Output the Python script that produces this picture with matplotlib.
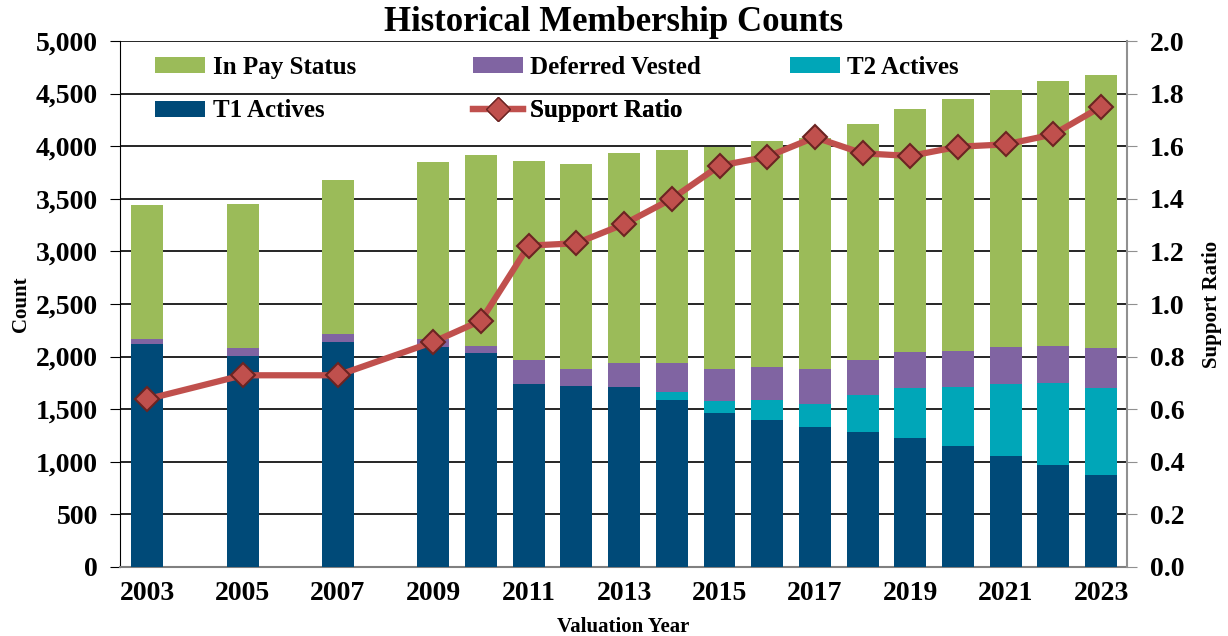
import matplotlib
matplotlib.use("Agg")
import matplotlib.pyplot as plt
from matplotlib.ticker import FuncFormatter, MultipleLocator
from matplotlib.patches import Patch
from matplotlib.lines import Line2D

years = [2003, 2005, 2007, 2009, 2010, 2011, 2012, 2013, 2014, 2015, 2016,
         2017, 2018, 2019, 2020, 2021, 2022, 2023]
t1_actives = [2117, 2006, 2139, 2091, 2031, 1736, 1724, 1714, 1591, 1467, 1394,
              1334, 1286, 1226, 1153, 1055, 970, 872]
t2_actives = [0, 0, 0, 0, 0, 0, 0, 0, 72, 111, 197,
              219, 353, 476, 558, 681, 779, 830]
deferred_vested = [47, 73, 73, 73, 73, 232, 158, 228, 279, 304, 313,
                   329, 329, 339, 342, 352, 352, 377]
in_pay_status = [1277, 1370, 1468, 1686, 1808, 1888, 1952, 1990, 2025, 2107, 2148,
                 2198, 2243, 2316, 2393, 2443, 2516, 2595]
support_ratio = [0.638, 0.729, 0.729, 0.856, 0.937, 1.222, 1.231, 1.304, 1.400, 1.526,
                 1.560, 1.634, 1.573, 1.563, 1.598, 1.607, 1.645, 1.750]
year_ticks = [2003, 2005, 2007, 2009, 2011, 2013, 2015, 2017, 2019, 2021, 2023]

c_t1 = "#004A78"
c_t2 = "#00A6B8"
c_dv = "#8064A2"
c_ip = "#9BBB59"
c_line = "#C0504D"
c_medge = "#6B2422"

font = ["Liberation Serif", "DejaVu Serif"]
plt.rcParams["font.family"] = font
plt.rcParams["font.weight"] = "bold"

fig = plt.figure(figsize=(12.28, 6.36), dpi=100)
ax = fig.add_axes([0.0977, 0.1085, 0.8203, 0.827])
ax2 = ax.twinx()

w = 0.67
ax.bar(years, t1_actives, width=w, color=c_t1, zorder=3)
b2 = [a for a in t1_actives]
ax.bar(years, t2_actives, width=w, bottom=b2, color=c_t2, zorder=3)
b3 = [a + b for a, b in zip(t1_actives, t2_actives)]
ax.bar(years, deferred_vested, width=w, bottom=b3, color=c_dv, zorder=3)
b4 = [a + b for a, b in zip(b3, deferred_vested)]
ax.bar(years, in_pay_status, width=w, bottom=b4, color=c_ip, zorder=3)

ax2.plot(years, support_ratio, color=c_line, lw=4.5, marker="D", markersize=12,
         markerfacecolor=c_line, markeredgecolor=c_medge, markeredgewidth=1.5,
         zorder=5)

ax.set_xlim(2002.43, 2023.55)
ax.set_ylim(0, 5000)
ax2.set_ylim(0, 2.0)
ax.yaxis.set_major_locator(MultipleLocator(500))
ax2.yaxis.set_major_locator(MultipleLocator(0.2))
ax.yaxis.set_major_formatter(FuncFormatter(lambda v, p: f"{int(v):,}"))
ax2.yaxis.set_major_formatter(FuncFormatter(lambda v, p: f"{v:.1f}"))
ax.set_xticks(year_ticks)
ax.set_xticklabels([str(y) for y in year_ticks])

ax.grid(axis="y", color="black", lw=1.2, zorder=0)
ax.set_axisbelow(True)

for a in (ax, ax2):
    a.spines["top"].set_visible(False)
ax.spines["right"].set_visible(False)
ax.spines["left"].set_color("black")
ax.spines["bottom"].set_color("#808080")
ax.spines["bottom"].set_linewidth(1.5)
ax2.spines["left"].set_visible(False)
ax2.spines["bottom"].set_visible(False)
ax2.spines["right"].set_color("#909090")
ax2.spines["right"].set_linewidth(1.5)

ax.tick_params(axis="y", labelsize=20, length=7, direction="out", pad=9)
ax.tick_params(axis="x", labelsize=20, length=0, pad=10)
ax2.tick_params(axis="y", labelsize=20, length=7, direction="out", color="#909090", pad=9)
for lab in ax.get_xticklabels() + ax.get_yticklabels() + ax2.get_yticklabels():
    lab.set_fontweight("bold")

ax.set_ylabel("Count", fontsize=15, fontweight="bold")
ax.yaxis.set_label_coords(-0.088, 0.5)
ax2.set_ylabel("Support Ratio", fontsize=15, fontweight="bold")
ax2.yaxis.set_label_coords(1.074, 0.5)
ax.set_xlabel("Valuation Year", fontsize=15, fontweight="bold", labelpad=8)
fig.suptitle("Historical Membership Counts", fontsize=25, fontweight="bold", y=0.99)

legend_items = [
    (Patch(facecolor=c_ip), "In Pay Status", 0.035, 0.9506),
    (Patch(facecolor=c_dv), "Deferred Vested", 0.350, 0.9506),
    (Patch(facecolor=c_t2), "T2 Actives", 0.665, 0.9506),
    (Patch(facecolor=c_t1), "T1 Actives", 0.035, 0.867),
    (Line2D([0], [0], color=c_line, lw=4.5, marker="D", markersize=12,
            markerfacecolor=c_line, markeredgecolor=c_medge), "Support Ratio", 0.350, 0.867),
]
for h, lbl, lx, ly in legend_items:
    leg = ax.legend([h], [lbl], loc="center left", bbox_to_anchor=(lx, ly),
                    frameon=False, borderpad=0, borderaxespad=0,
                    prop={"family": font, "weight": "bold", "size": 18},
                    handlelength=2.0, handleheight=0.6, handletextpad=0.3)
    leg.set_zorder(10)
    ax.add_artist(leg)

fig.savefig("out.png", dpi=100)
